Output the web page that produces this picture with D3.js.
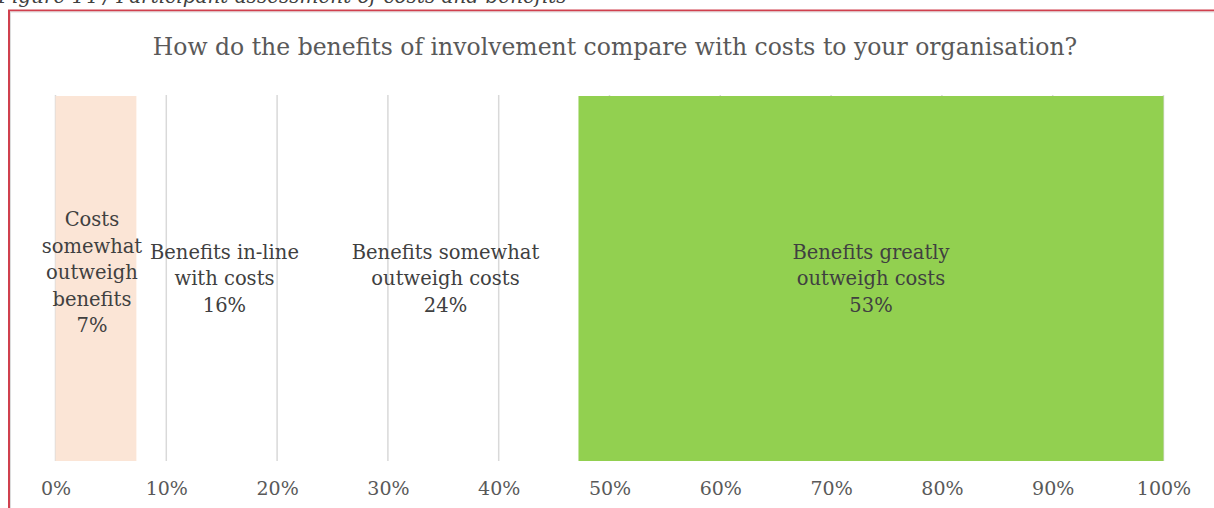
<!DOCTYPE html>
<html><head><meta charset="utf-8">
<script src="https://cdn.jsdelivr.net/npm/d3@7"></script>
<style>
html,body{margin:0;padding:0;background:#fff;}
svg{display:block;font-family:"DejaVu Serif","Liberation Serif",serif;}
</style></head>
<body><div id="chart"></div>
<script>
const caption = "Figure 14 / Participant assessment of costs and benefits";
const title = "How do the benefits of involvement compare with costs to your organisation?";
const categories = ["Costs somewhat outweigh benefits","Benefits in-line with costs","Benefits somewhat outweigh costs","Benefits greatly outweigh costs"];
const labelLines = [["Costs","somewhat","outweigh","benefits"],["Benefits in-line","with costs"],["Benefits somewhat","outweigh costs"],["Benefits greatly","outweigh costs"]];
const values = [7.3, 15.9, 24.0, 52.8];
const labels = ["7%","16%","24%","53%"];
const colors = ["#FBE5D6","none","none","#92D050"];
const ticks = [0,10,20,30,40,50,60,70,80,90,100];

const W = 1214, H = 508;
const svg = d3.select("#chart").append("svg").attr("width", W).attr("height", H);

// caption (cut off at top, as in the source)
svg.append("text").attr("x", -2).attr("y", 3)
  .attr("font-style","italic").attr("font-size", 20).attr("fill","#404040")
  .text(caption);

// frame
svg.append("rect").attr("x", 9).attr("y", 10.5).attr("width", W + 20).attr("height", H + 20)
  .attr("fill","none").attr("stroke","#d0404e").attr("stroke-width", 2);
svg.append("rect").attr("x", 10.5).attr("y", 12).attr("width", W + 20).attr("height", H + 20)
  .attr("fill","none").attr("stroke","#dcdcdc").attr("stroke-width", 1);

// title
svg.append("text").attr("x", 615).attr("y", 55).attr("text-anchor","middle")
  .attr("font-size", 23.5).attr("fill","#595959").text(title);

const x = d3.scaleLinear().domain([0,100]).range([55.5, 1163.5]);
const y = d3.scaleBand().domain(["all"]).range([96, 461]).padding(0);

// gridlines
svg.append("g").selectAll("line").data(ticks).join("line")
  .attr("x1", d => x(d)).attr("x2", d => x(d))
  .attr("y1", 95).attr("y2", 461)
  .attr("stroke","#d9d9d9").attr("stroke-width", 1.5);

// stacked segments
const starts = [];
values.reduce((acc, v, i) => { starts[i] = acc; return acc + v; }, 0);
const segs = values.map((v, i) => ({cat: categories[i], v, s: starts[i], e: starts[i] + v, lines: labelLines[i], lab: labels[i], color: colors[i]}));

svg.append("g").selectAll("rect").data(segs).join("rect")
  .attr("x", d => x(d.s)).attr("width", d => x(d.e) - x(d.s))
  .attr("y", y("all")).attr("height", y.bandwidth())
  .attr("fill", d => d.color === "none" ? "none" : d.color);

// labels
const lh = 26.5;
const lg = svg.append("g").attr("font-size", 19.5).attr("fill","#404040").attr("text-anchor","middle");
segs.forEach(d => {
  const all = d.lines.concat([d.lab]);
  const cx = (x(d.s) + x(d.e)) / 2 - (all.length > 3 ? 4 : 0);
  const cy = y("all") + y.bandwidth() / 2 - (all.length > 3 ? 6 : 0);
  const y0 = cy - (all.length - 1) * lh / 2;
  const t = lg.append("text");
  all.forEach((s, i) => {
    t.append("tspan").attr("x", cx).attr("y", y0 + i * lh).attr("dy","0.35em").text(s);
  });
});

// axis
const axis = d3.axisBottom(x).tickValues(ticks).tickFormat(d => d + "%").tickSize(0).tickPadding(0);
const ag = svg.append("g").attr("transform", "translate(0,481)").call(axis);
ag.select(".domain").remove();
ag.selectAll("text").attr("font-family","DejaVu Serif, Liberation Serif, serif").attr("font-size", 19).attr("fill","#595959");
</script></body></html>
